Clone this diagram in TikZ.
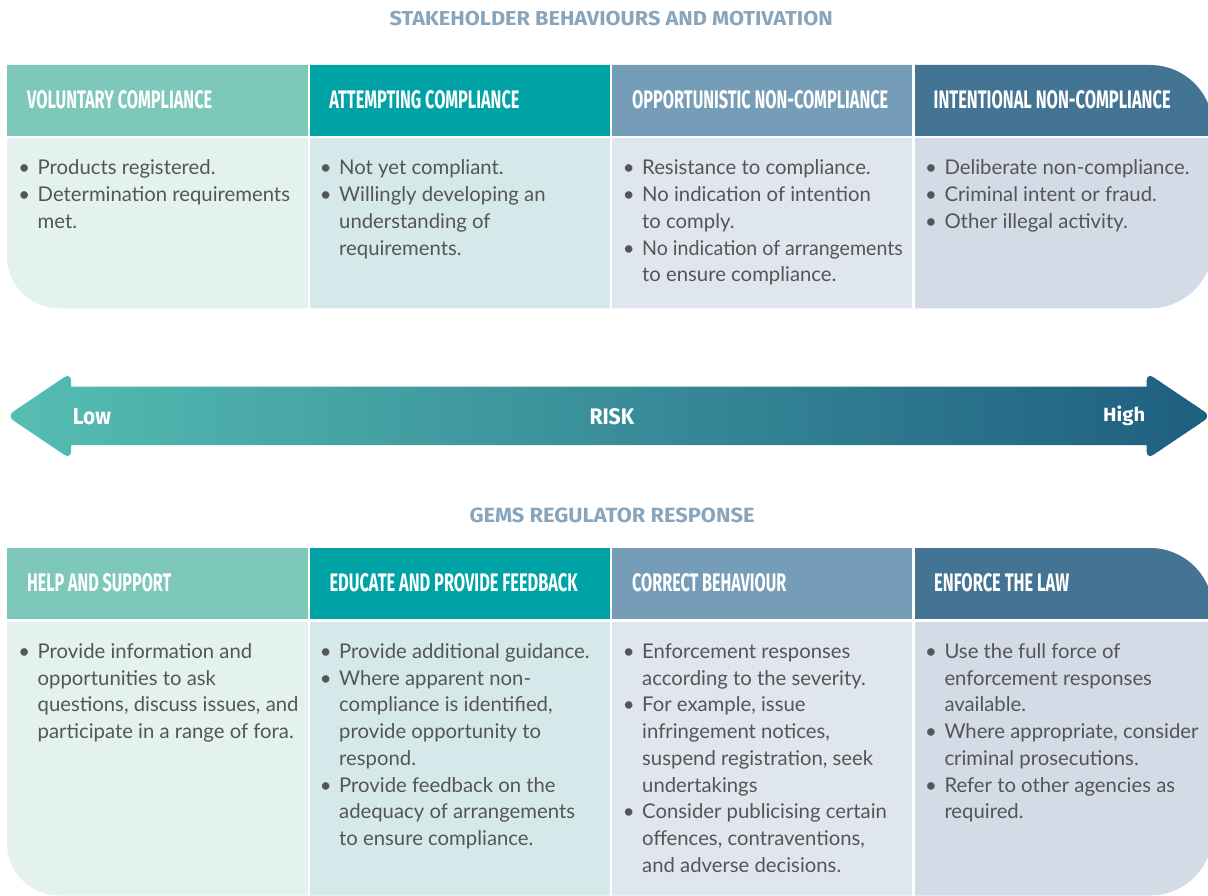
\documentclass[tikz,border=0pt]{standalone}
\usepackage{fontspec}
\usepackage{graphicx}
\setmainfont{Lato}
\newfontfamily\hfont{Fira Sans}
\definecolor{hA}{HTML}{7DC7BB}
\definecolor{hB}{HTML}{00A3A5}
\definecolor{hC}{HTML}{769DB7}
\definecolor{hD}{HTML}{447494}
\definecolor{bA}{HTML}{E3F2EF}
\definecolor{bB}{HTML}{D6E9EA}
\definecolor{bC}{HTML}{DFE6EE}
\definecolor{bD}{HTML}{D3DBE6}
\definecolor{ttl}{HTML}{87A5BD}
\definecolor{txt}{HTML}{555555}
\definecolor{arL}{HTML}{55BEB3}
\definecolor{arR}{HTML}{1E5E80}
\newcommand\bl{\par\noindent\llap{\textbullet\hspace{7.5pt}}}
\tikzset{
  hdr/.style={anchor=base west, inner sep=0pt, text=white, font=\hfont\bfseries},
  ttlnode/.style={anchor=base west, inner sep=0pt, text=ttl, font=\hfont\bfseries},
  arlabel/.style={anchor=base west, inner sep=0pt, text=white, font=\hfont\bfseries},
  bodytext/.style={anchor=base west, inner sep=0pt, text=txt, font=\fontsize{20.3}{26.75}\selectfont},
}
\begin{document}
\begin{tikzpicture}[x=1pt,y=-1pt]
\useasboundingbox (0,0) rectangle (1208,896);
\clip (0,0) rectangle (1208,896);

% ---------- top table ----------
\begin{scope}
\clip (7,65) -- (1150,65) arc[start angle=270,end angle=360,radius=63]
  -- (1213,245.3) arc[start angle=0,end angle=90,radius=63]
  -- (59,308.3) arc[start angle=90,end angle=180,radius=52] -- cycle;
\fill[hA] (0,60) rectangle (307.5,136);
\fill[hB] (310,60) rectangle (609.5,136);
\fill[hC] (612,60) rectangle (912,136);
\fill[hD] (914.5,60) rectangle (1220,136);
\fill[bA] (0,138.3) rectangle (307.5,320);
\fill[bB] (310,138.3) rectangle (609.5,320);
\fill[bC] (612,138.3) rectangle (912,320);
\fill[bD] (914.5,138.3) rectangle (1220,320);
\end{scope}

% ---------- bottom table ----------
\begin{scope}
\clip (7,548) -- (1150,548) arc[start angle=270,end angle=360,radius=63]
  -- (1213,832.5) arc[start angle=0,end angle=90,radius=63]
  -- (59,895.5) arc[start angle=90,end angle=180,radius=52] -- cycle;
\fill[hA] (0,540) rectangle (307.5,619.3);
\fill[hB] (310,540) rectangle (609.5,619.3);
\fill[hC] (612,540) rectangle (912,619.3);
\fill[hD] (914.5,540) rectangle (1220,619.3);
\fill[bA] (0,621.5) rectangle (307.5,900);
\fill[bB] (310,621.5) rectangle (609.5,900);
\fill[bC] (612,621.5) rectangle (912,900);
\fill[bD] (914.5,621.5) rectangle (1220,900);
\end{scope}

% ---------- arrow ----------
\begin{scope}
\clip (66,386.7) -- (1152,386.7) -- (1152,445) -- (66,445) -- cycle
  [rounded corners=8pt] (71,372.7) -- (71,459.3) -- (6.7,416) -- cycle
  (1146.7,372.7) -- (1211,416) -- (1146.7,459.3) -- cycle;
\shade[left color=arL, right color=arR] (6,370) rectangle (1213,462);
\end{scope}

% ---------- titles ----------
\node[ttlnode] (t1) at (389.5,26) {\resizebox{443pt}{14.3pt}{STAKEHOLDER BEHAVIOURS AND MOTIVATION}};
\node[ttlnode] (t2) at (469.3,522.3) {\resizebox{285pt}{14.6pt}{GEMS REGULATOR RESPONSE}};

% ---------- arrow labels ----------
\node[arlabel] (low) at (72.7,424) {\resizebox{38pt}{16pt}{Low}};
\node[arlabel] (risk) at (589.3,424) {\resizebox{44.7pt}{16pt}{RISK}};
\node[arlabel] (high) at (1103,421.7) {\resizebox{42pt}{15.5pt}{High}};

% ---------- top headers ----------
\node[hdr] (h1) at (27,108.3) {\resizebox{185pt}{18pt}{VOLUNTARY COMPLIANCE}};
\node[hdr] (h2) at (329.2,108.3) {\resizebox{190pt}{18pt}{ATTEMPTING COMPLIANCE}};
\node[hdr] (h3) at (632,108.3) {\resizebox{256pt}{18pt}{OPPORTUNISTIC NON-COMPLIANCE}};
\node[hdr] (h4) at (933.5,108.3) {\resizebox{237pt}{18pt}{INTENTIONAL NON-COMPLIANCE}};

% ---------- bottom headers ----------
\node[hdr] (g1) at (27,591.7) {\resizebox{144pt}{18pt}{HELP AND SUPPORT}};
\node[hdr] (g2) at (329.4,591.7) {\resizebox{248pt}{18pt}{EDUCATE AND PROVIDE FEEDBACK}};
\node[hdr] (g3) at (632,591.7) {\resizebox{154pt}{18pt}{CORRECT BEHAVIOUR}};
\node[hdr] (g4) at (934,591.7) {\resizebox{135pt}{18pt}{ENFORCE THE LAW}};

% ---------- top body ----------
\node[bodytext] (b1) at (37.5,175) {\parbox[t]{400pt}{\bl Products registered.\bl Determination requirements\\met.}};
\node[bodytext] (b2) at (339,175) {\parbox[t]{400pt}{\bl Not yet compliant.\bl Willingly developing an\\understanding of\\requirements.}};
\node[bodytext] (b3) at (642,175) {\parbox[t]{400pt}{\bl Resistance to compliance.\bl No indication of intention\\to comply.\bl \scalebox{0.965}[1]{No indication of arrangements}\\to ensure compliance.}};
\node[bodytext] (b4) at (944.3,175) {\parbox[t]{400pt}{\bl Deliberate non-compliance.\bl Criminal intent or fraud.\bl Other illegal activity.}};

% ---------- bottom body ----------
\node[bodytext] (c1) at (37.5,658.3) {\parbox[t]{400pt}{\bl Provide information and\\opportunities to ask\\questions, discuss issues, and\\participate in a range of fora.}};
\node[bodytext] (c2) at (339,658.3) {\parbox[t]{400pt}{\bl Provide additional guidance.\bl Where apparent non-\\compliance is identified,\\provide opportunity to\\respond.\bl Provide feedback on the\\adequacy of arrangements\\to ensure compliance.}};
\node[bodytext] (c3) at (642,658.3) {\parbox[t]{400pt}{\bl Enforcement responses\\according to the severity.\bl For example, issue\\infringement notices,\\suspend registration, seek\\undertakings\bl Consider publicising certain\\offences, contraventions,\\and adverse decisions.}};
\node[bodytext] (c4) at (944.3,658.3) {\parbox[t]{400pt}{\bl Use the full force of\\enforcement responses\\available.\bl Where appropriate, consider\\criminal prosecutions.\bl Refer to other agencies as\\required.}};
\end{tikzpicture}
\end{document}
